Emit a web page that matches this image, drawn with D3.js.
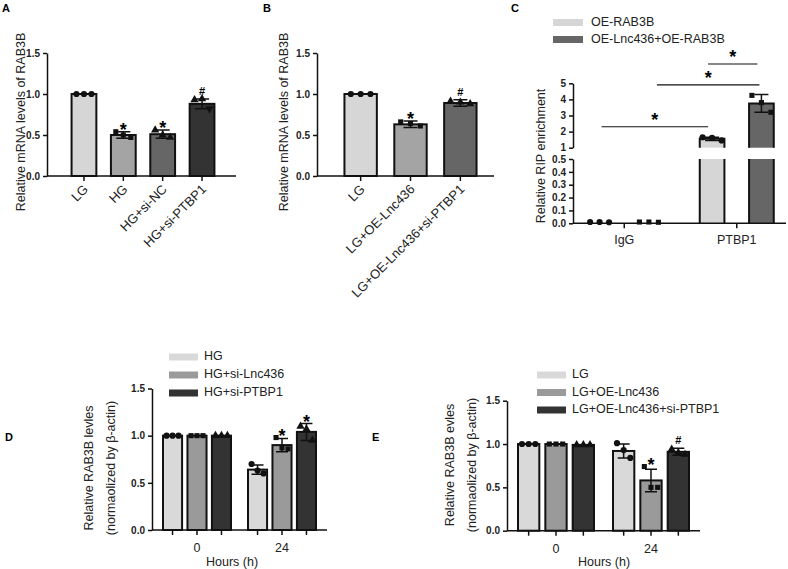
<!DOCTYPE html>
<html>
<head>
<meta charset="utf-8">
<script src="https://cdn.jsdelivr.net/npm/d3@7"></script>
<style>
  body { margin: 0; background: #fff; }
  svg { font-family: "Liberation Sans", Arial, sans-serif; }
  .tick text { font-weight: bold; font-size: 10px; fill: #222; }
  .domain, .tick line { stroke: #111; stroke-width: 1.5; }
</style>
</head>
<body>
<div id="chart"></div>
<script>
// ---- panel A ----
const catsA = ["LG", "HG", "HG+si-NC", "HG+si-PTBP1"];
const meanA = [1.0, 0.50, 0.51, 0.88];
const sdA = [0.0, 0.04, 0.05, 0.06];
const ptsA = [[1, 1, 1], [0.54, 0.50, 0.47], [0.56, 0.50, 0.47], [0.93, 0.94, 0.82]];
const sigA = ["", "*", "*", "#"];

// ---- panel B ----
const catsB = ["LG", "LG+OE-Lnc436", "LG+OE-Lnc436+si-PTBP1"];
const meanB = [1.0, 0.63, 0.89];
const sdB = [0.0, 0.04, 0.04];
const ptsB = [[1, 1, 1], [0.66, 0.64, 0.61], [0.91, 0.90, 0.88]];
const sigB = ["", "*", "#"];

// ---- panel C (broken axis) ----
const groupsC = ["IgG", "PTBP1"];
const seriesC = ["OE-RAB3B", "OE-Lnc436+OE-RAB3B"];
const meanC_rab = [0.01, 1.55];
const meanC_lnc = [0.01, 3.75];
const sdC_rab = [0.0, 0.1];
const sdC_lnc = [0.0, 0.55];
const ptsC_rab = [[0.01, 0.01, 0.008], [1.65, 1.62, 1.45]];
const ptsC_lnc = [[0.01, 0.01, 0.008], [4.25, 3.8, 3.2]];

// ---- panel D ----
const groupsD = ["0", "24"];
const seriesD = ["HG", "HG+si-Lnc436", "HG+si-PTBP1"];
const meanD_hg = [1.0, 0.64];
const meanD_lnc = [1.0, 0.90];
const meanD_ptbp = [1.0, 1.04];
const sdD_hg = [0, 0.05];
const sdD_lnc = [0, 0.07];
const sdD_ptbp = [0, 0.09];
const ptsD_hg = [[1, 1, 1], [0.70, 0.63, 0.60]];
const ptsD_lnc = [[1, 1, 1], [0.98, 0.87, 0.86]];
const ptsD_ptbp = [[1, 1, 1], [1.10, 1.07, 0.95]];
const sigD = [["", ""], ["", "*"], ["", "*"]];

// ---- panel E ----
const groupsE = ["0", "24"];
const seriesE = ["LG", "LG+OE-Lnc436", "LG+OE-Lnc436+si-PTBP1"];
const meanE_lg = [1.0, 0.92];
const meanE_lnc = [1.0, 0.58];
const meanE_ptbp = [0.99, 0.91];
const sdE_lg = [0, 0.08];
const sdE_lnc = [0, 0.13];
const sdE_ptbp = [0, 0.04];
const ptsE_lg = [[1, 1, 1], [1.01, 0.93, 0.84]];
const ptsE_lnc = [[1, 1, 1], [0.74, 0.50, 0.50]];
const ptsE_ptbp = [[0.99, 0.99, 0.99], [0.94, 0.90, 0.88]];
const sigE = [["", ""], ["", "*"], ["", "#"]];

const yTicks = [0, 0.5, 1.0, 1.5];

const svg = d3.select("#chart").append("svg")
    .attr("width", 788)
    .attr("height", 569);

const shapes = {
    circle: d3.symbolCircle,
    square: d3.symbolSquare,
    triangle: d3.symbolTriangle
};

function panelLetter(t, x, y) {
    svg.append("text").attr("x", x).attr("y", y)
        .attr("font-size", 11).attr("font-weight", "bold").text(t);
}

function yTitle(lines, xs, cy) {
    lines.forEach((l, i) => {
        svg.append("text")
            .attr("transform", `translate(${xs[i]},${cy}) rotate(-90)`)
            .attr("text-anchor", "middle")
            .attr("dominant-baseline", "middle")
            .attr("font-size", 12.5).attr("fill", "#222")
            .text(l);
    });
}

function sigMark(g, cx, y, sig) {
    g.append("text").attr("x", cx).attr("y", y)
        .attr("text-anchor", "middle")
        .attr("font-size", sig === "*" ? 18 : 11)
        .attr("font-weight", "bold")
        .attr("dy", sig === "*" ? "0.45em" : "0")
        .text(sig);
}

function drawPoints(g, cx, vals, y, shape, spread, down) {
    const sym = d3.symbol().type(shapes[shape]).size(shape === "square" ? 26 : 30);
    vals.forEach((v, i) => {
        g.append("path")
            .attr("d", sym())
            .attr("transform", `translate(${cx + (i - 1) * spread},${y(v)})${down && i === 2 ? " rotate(180)" : ""}`)
            .attr("fill", "#111");
    });
}

function errBar(g, cx, m, sd, y, cap) {
    if (sd <= 0) return;
    g.append("path")
        .attr("d", `M${cx},${y(m - sd)}V${y(m + sd)}M${cx - cap},${y(m + sd)}H${cx + cap}M${cx - cap},${y(m - sd)}H${cx + cap}`)
        .attr("stroke", "#111").attr("stroke-width", 1.5).attr("fill", "none");
}

function barRect(g, x, w, y0, y1, fill) {
    g.append("rect")
        .attr("x", x).attr("y", Math.min(y0, y1))
        .attr("width", w).attr("height", Math.abs(y0 - y1))
        .attr("fill", fill).attr("stroke", "#111").attr("stroke-width", 2);
}

// simple bar panel (A, B)
function simplePanel(cfg) {
    const g = svg.append("g");
    const y = d3.scaleLinear().domain([0, 1.5]).range([176, 53]);
    const x = d3.scaleBand().domain(cfg.cats).range(cfg.xr).padding(cfg.pad);

    g.append("g").attr("transform", `translate(${cfg.ax},0)`)
        .call(d3.axisLeft(y).tickValues(yTicks).tickFormat(d3.format(".1f")).tickSize(4).tickSizeOuter(0));

    cfg.cats.forEach((c, i) => {
        barRect(g, x(c), x.bandwidth(), y(0), y(cfg.mean[i]), cfg.colors[i]);
    });
    cfg.cats.forEach((c, i) => {
        const cx = x(c) + x.bandwidth() / 2;
        errBar(g, cx, cfg.mean[i], cfg.sd[i], y, 7);
        drawPoints(g, cx, cfg.pts[i], y, cfg.shapes[i], x.bandwidth() / 3.3, cfg.down && cfg.down[i]);
        if (cfg.sig[i]) sigMark(g, cx, y(cfg.mean[i] + cfg.sd[i]) - 4, cfg.sig[i]);
    });

    const xa = g.append("g").attr("transform", `translate(0,${y(0)})`)
        .call(d3.axisBottom(x).tickSize(5).tickFormat(""));
    xa.select(".domain").remove();
    g.append("line").attr("x1", cfg.ax).attr("x2", cfg.xend)
        .attr("y1", y(0)).attr("y2", y(0))
        .attr("stroke", "#111").attr("stroke-width", 1.5);

    cfg.cats.forEach(c => {
        const cx = x(c) + x.bandwidth() / 2;
        g.append("text")
            .attr("transform", `translate(${cx + 5},${y(0) + 14}) rotate(-45)`)
            .attr("text-anchor", "end")
            .attr("font-size", 13).attr("fill", "#222")
            .text(c);
    });
}

simplePanel({
    cats: catsA, mean: meanA, sd: sdA, pts: ptsA, sig: sigA,
    colors: ["#d6d6d6", "#a4a4a4", "#666666", "#333333"],
    shapes: ["circle", "square", "triangle", "triangle"],
    down: [false, false, false, true],
    ax: 47, xr: [57, 229], pad: 0.37, xend: 236
});
simplePanel({
    cats: catsB, mean: meanB, sd: sdB, pts: ptsB, sig: sigB,
    colors: ["#d6d6d6", "#a4a4a4", "#666666"],
    shapes: ["circle", "square", "triangle"],
    ax: 317, xr: [327, 494], pad: 0.35, xend: 494
});
panelLetter("A", 2, 12);
panelLetter("B", 263, 12);
yTitle(["Relative mRNA levels of RAB3B"], [22], 122);
yTitle(["Relative mRNA levels of RAB3B"], [285], 122);

// ---- panel C ----
(function () {
    const g = svg.append("g");
    const ax = 573, xend = 786;
    const yLo = d3.scaleLinear().domain([0, 0.5]).range([223.3, 159]);
    const yHi = d3.scaleLinear().domain([1, 5]).range([147.7, 83.3]);
    const x0 = d3.scaleBand().domain(groupsC).range([568, 793]);
    const x1 = d3.scaleBand().domain(seriesC).range([-37, 37]).paddingInner(0.5);
    const fills = ["#d6d6d6", "#666666"];
    const means = [meanC_rab, meanC_lnc];
    const sds = [sdC_rab, sdC_lnc];
    const pts = [ptsC_rab, ptsC_lnc];
    const shp = ["circle", "square"];

    g.append("g").attr("transform", `translate(${ax},0)`)
        .call(d3.axisLeft(yLo).tickValues([0, 0.1, 0.2, 0.3, 0.4, 0.5]).tickFormat(d3.format(".1f")).tickSize(4).tickSizeOuter(0));
    g.append("g").attr("transform", `translate(${ax},0)`)
        .call(d3.axisLeft(yHi).tickValues([1, 2, 3, 4, 5]).tickFormat(d3.format("d")).tickSize(4).tickSizeOuter(0));

    const yAny = v => v <= 0.5 ? yLo(v) : yHi(v);

    groupsC.forEach((grp, gi) => {
        seriesC.forEach((s, si) => {
            const bx = x0(grp) + x0.bandwidth() / 2 + x1(s);
            const w = x1.bandwidth();
            const m = means[si][gi];
            if (m > 1) {
                g.append("rect").attr("x", bx).attr("y", yLo(0.5)).attr("width", w)
                    .attr("height", yLo(0) - yLo(0.5)).attr("fill", fills[si]);
                g.append("path").attr("d", `M${bx},${yLo(0)}V${yLo(0.5)}M${bx + w},${yLo(0)}V${yLo(0.5)}`)
                    .attr("stroke", "#111").attr("stroke-width", 2);
                g.append("rect").attr("x", bx).attr("y", yHi(m)).attr("width", w)
                    .attr("height", yHi(1) - yHi(m)).attr("fill", fills[si]);
                g.append("path").attr("d", `M${bx},${yHi(1)}V${yHi(m)}H${bx + w}V${yHi(1)}`)
                    .attr("stroke", "#111").attr("stroke-width", 2).attr("fill", "none");
            }
            const cx = bx + w / 2;
            errBar(g, cx, m, sds[si][gi], yAny, 7);
            drawPoints(g, cx, pts[si][gi], yAny, shp[si], 9.5);
        });
    });

    g.append("line").attr("x1", ax).attr("x2", xend).attr("y1", yLo(0)).attr("y2", yLo(0))
        .attr("stroke", "#111").attr("stroke-width", 1.5);
    groupsC.forEach(grp => {
        const cx = x0(grp) + x0.bandwidth() / 2;
        g.append("line").attr("x1", cx).attr("x2", cx).attr("y1", yLo(0)).attr("y2", yLo(0) + 5)
            .attr("stroke", "#111").attr("stroke-width", 1.5);
        g.append("text").attr("x", cx).attr("y", yLo(0) + 21)
            .attr("text-anchor", "middle").attr("font-size", 12.5).attr("fill", "#222").text(grp);
    });

    // significance brackets
    const cRab = (gi) => x0(groupsC[gi]) + x0.bandwidth() / 2 + x1(seriesC[0]) + x1.bandwidth() / 2;
    const cLnc = (gi) => x0(groupsC[gi]) + x0.bandwidth() / 2 + x1(seriesC[1]) + x1.bandwidth() / 2;
    const brackets = [
        [cRab(0) + 2, cRab(1) - 4, 2.3],
        [cLnc(0) + 8, cLnc(1) - 2, 4.9],
        [cRab(1) - 4, cLnc(1) - 4, 6.2]
    ];
    brackets.forEach(b => {
        g.append("line").attr("x1", b[0]).attr("x2", b[1]).attr("y1", yHi(b[2])).attr("y2", yHi(b[2]))
            .attr("stroke", "#111").attr("stroke-width", 1.2);
        g.append("text").attr("x", (b[0] + b[1]) / 2).attr("y", yHi(b[2]) - 1)
            .attr("text-anchor", "middle").attr("font-size", 18).attr("font-weight", "bold").text("*");
    });

    // legend
    seriesC.forEach((s, i) => {
        g.append("rect").attr("x", 553).attr("y", 19 + i * 17).attr("width", 30).attr("height", 7).attr("fill", fills[i]);
        g.append("text").attr("x", 591).attr("y", 23 + i * 17).attr("dominant-baseline", "middle")
            .attr("font-size", 12.5).attr("fill", "#222").text(s);
    });
})();
panelLetter("C", 511, 12);
yTitle(["Relative RIP enrichment"], [542], 156);

// grouped panel (D, E)
function groupedPanel(cfg) {
    const g = svg.append("g");
    const y = d3.scaleLinear().domain([0, 1.5]).range(cfg.yr);
    const x0 = d3.scaleBand().domain(cfg.groups).range(cfg.xr);
    const x1 = d3.scaleBand().domain(cfg.series).range([-cfg.half, cfg.half]).paddingInner(cfg.pad);

    g.append("g").attr("transform", `translate(${cfg.ax},0)`)
        .call(d3.axisLeft(y).tickValues(yTicks).tickFormat(d3.format(".1f")).tickSize(4).tickSizeOuter(0));

    cfg.groups.forEach((grp, gi) => {
        cfg.series.forEach((s, si) => {
            const bx = x0(grp) + x0.bandwidth() / 2 + x1(s);
            barRect(g, bx, x1.bandwidth(), y(0), y(cfg.means[si][gi]), cfg.colors[si]);
        });
    });
    cfg.groups.forEach((grp, gi) => {
        cfg.series.forEach((s, si) => {
            const cx = x0(grp) + x0.bandwidth() / 2 + x1(s) + x1.bandwidth() / 2;
            const m = cfg.means[si][gi], sd = cfg.sds[si][gi];
            errBar(g, cx, m, sd, y, 6);
            drawPoints(g, cx, cfg.pts[si][gi], y, cfg.shapes[si], x1.bandwidth() / 3.2);
            const sig = cfg.sig[si][gi];
            if (sig) {
                const top = Math.max(m + sd, d3.max(cfg.pts[si][gi]));
                sigMark(g, cx, y(top) - 4, sig);
            }
            g.append("line").attr("x1", cx).attr("x2", cx).attr("y1", y(0)).attr("y2", y(0) + 5)
                .attr("stroke", "#111").attr("stroke-width", 1.5);
        });
        g.append("text").attr("x", x0(grp) + x0.bandwidth() / 2).attr("y", y(0) + 22)
            .attr("text-anchor", "middle").attr("font-size", 12.5).attr("fill", "#222").text(grp);
    });

    g.append("line").attr("x1", cfg.ax).attr("x2", cfg.xend).attr("y1", y(0)).attr("y2", y(0))
        .attr("stroke", "#111").attr("stroke-width", 1.5);
    g.append("text").attr("x", cfg.hx).attr("y", 566)
        .attr("text-anchor", "middle").attr("font-size", 12.5).attr("fill", "#222").text("Hours (h)");

    cfg.series.forEach((s, i) => {
        g.append("rect").attr("x", cfg.lx).attr("y", cfg.ly + i * cfg.lstep - 3.5)
            .attr("width", 29).attr("height", 7).attr("fill", cfg.colors[i]);
        g.append("text").attr("x", cfg.lx + 35).attr("y", cfg.ly + i * cfg.lstep)
            .attr("dominant-baseline", "middle").attr("font-size", 12.5).attr("fill", "#222").text(s);
    });
}

groupedPanel({
    groups: groupsD, series: seriesD,
    means: [meanD_hg, meanD_lnc, meanD_ptbp],
    sds: [sdD_hg, sdD_lnc, sdD_ptbp],
    pts: [ptsD_hg, ptsD_lnc, ptsD_ptbp],
    sig: sigD,
    colors: ["#d9d9d9", "#9a9a9a", "#333333"],
    shapes: ["circle", "square", "triangle"],
    yr: [530, 388.5], ax: 152, xr: [154.5, 324.5], half: 34, pad: 0.22, xend: 327,
    hx: 232, lx: 169, ly: 357, lstep: 18
});
groupedPanel({
    groups: groupsE, series: seriesE,
    means: [meanE_lg, meanE_lnc, meanE_ptbp],
    sds: [sdE_lg, sdE_lnc, sdE_ptbp],
    pts: [ptsE_lg, ptsE_lnc, ptsE_ptbp],
    sig: sigE,
    colors: ["#d9d9d9", "#9a9a9a", "#333333"],
    shapes: ["circle", "square", "triangle"],
    yr: [530.7, 400.7], ax: 507, xr: [508.5, 698.5], half: 38, pad: 0.22, xend: 700,
    hx: 604, lx: 537, ly: 375, lstep: 17.5
});
panelLetter("D", 5, 441);
panelLetter("E", 372, 441);
yTitle(["Relative RAB3B levles", "(normaolized by β-actin)"], [90, 112], 468);
yTitle(["Relative RAB3B evles", "(normaolized by β-actin)"], [451, 473], 465);
</script>
</body>
</html>
